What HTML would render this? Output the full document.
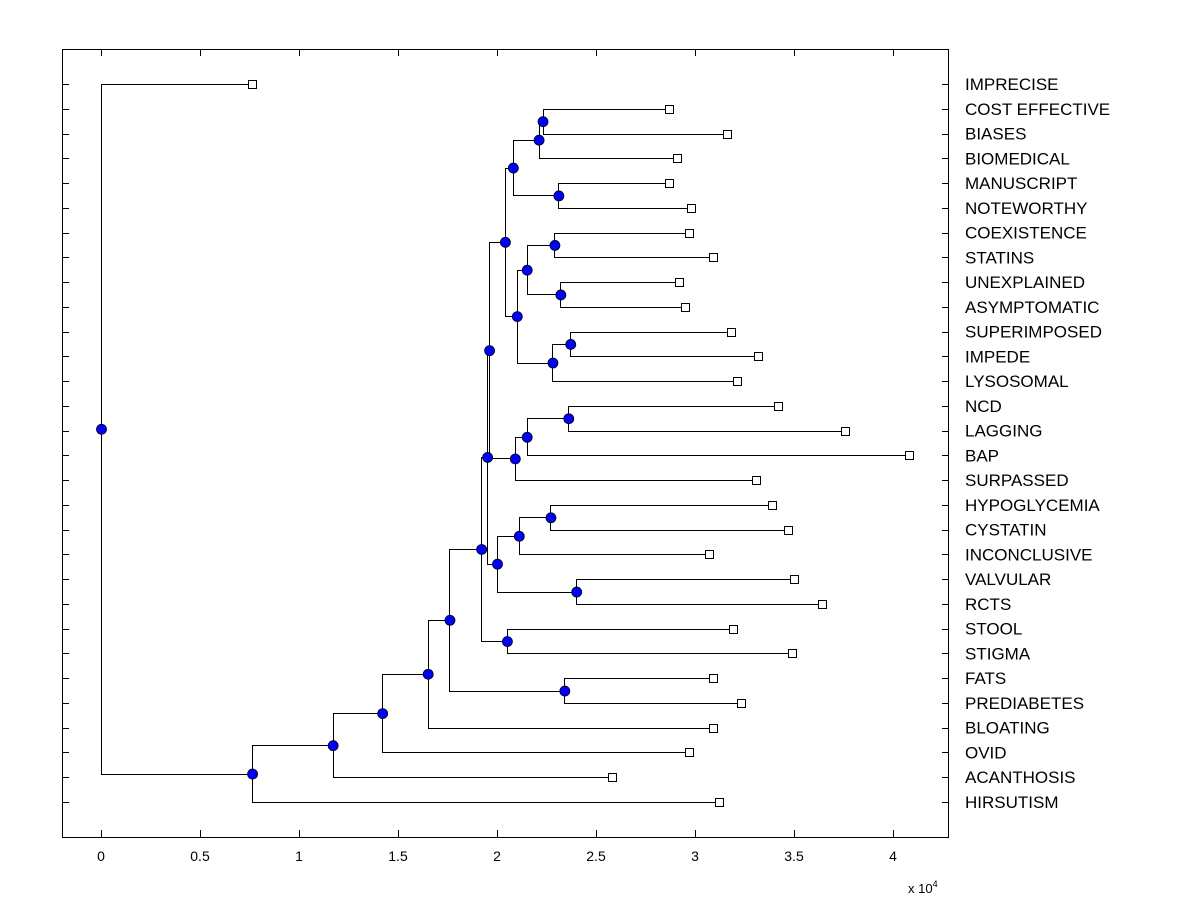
<!DOCTYPE html>
<html><head><meta charset="utf-8"><style>
body{margin:0;background:#fff;}
svg{display:block;font-family:"Liberation Sans",Arial,sans-serif;}
</style></head><body>
<svg id="chart" width="1200" height="900"></svg>
<script>
const leafNames=["IMPRECISE","COST EFFECTIVE","BIASES","BIOMEDICAL","MANUSCRIPT","NOTEWORTHY","COEXISTENCE","STATINS","UNEXPLAINED","ASYMPTOMATIC","SUPERIMPOSED","IMPEDE","LYSOSOMAL","NCD","LAGGING","BAP","SURPASSED","HYPOGLYCEMIA","CYSTATIN","INCONCLUSIVE","VALVULAR","RCTS","STOOL","STIGMA","FATS","PREDIABETES","BLOATING","OVID","ACANTHOSIS","HIRSUTISM"];
const leafValues=[0.763,2.87,3.16,2.91,2.87,2.98,2.97,3.09,2.92,2.95,3.18,3.32,3.21,3.42,3.76,4.08,3.31,3.39,3.47,3.07,3.50,3.64,3.19,3.49,3.09,3.23,3.09,2.97,2.58,3.12];
const nodeNames=["U","S","T","Q","X","Y","V","Z","W","R","N","AB","AA","P","J","AE","AC","AD","K","H","I","F","G","E","D","C","B","A","root"];
const nodeChildA=["COST EFFECTIVE","U","MANUSCRIPT","S","COEXISTENCE","UNEXPLAINED","X","SUPERIMPOSED","Z","V","Q","NCD","AB","AA","N","HYPOGLYCEMIA","AE","VALVULAR","AC","J","STOOL","H","FATS","F","E","D","C","B","IMPRECISE"];
const nodeChildB=["BIASES","BIOMEDICAL","NOTEWORTHY","T","STATINS","ASYMPTOMATIC","Y","IMPEDE","LYSOSOMAL","W","R","LAGGING","BAP","SURPASSED","P","CYSTATIN","INCONCLUSIVE","RCTS","AD","K","STIGMA","I","PREDIABETES","G","BLOATING","OVID","ACANTHOSIS","HIRSUTISM","A"];
const nodeHeights=[2.23,2.21,2.31,2.08,2.29,2.32,2.15,2.37,2.28,2.10,2.04,2.36,2.15,2.09,1.96,2.27,2.11,2.40,2.00,1.95,2.05,1.92,2.34,1.76,1.65,1.42,1.17,0.763,0];
const xTicks=[0,0.5,1,1.5,2,2.5,3,3.5,4];

const NS="http://www.w3.org/2000/svg";
const svg=document.getElementById('chart');
const X=v=>101+v*198;
const Y=i=>84+i*24.758;
function mk(t,a,p){const e=document.createElementNS(NS,t);for(const k in a)e.setAttribute(k,a[k]);(p||svg).appendChild(e);return e;}

const frame=mk('rect',{x:62.5,y:49.5,width:886,height:788,fill:'#fff',stroke:'#000','stroke-width':1});



xTicks.forEach(t=>{
  const x=Math.round(X(t))+0.5;
  mk('line',{x1:x,y1:837,x2:x,y2:830,stroke:'#000'});
  mk('line',{x1:x,y1:49,x2:x,y2:56,stroke:'#000'});
  const tx=mk('text',{x:X(t),y:861,'font-size':14,'text-anchor':'middle'});
  tx.textContent=String(t);
  
  
});
const ex=mk('text',{x:908,y:893,'font-size':13});
ex.innerHTML='x 10<tspan dy="-6" font-size="9">4</tspan>';



const pos={};
leafNames.forEach((n,i)=>{pos[n]={x:X(leafValues[i]),y:Y(i)};
  const yy=Math.round(Y(i))+0.5;
  mk('line',{x1:62,y1:yy,x2:69,y2:yy,stroke:'#000'});
  mk('line',{x1:942,y1:yy,x2:949,y2:yy,stroke:'#000'});
  const t=mk('text',{x:965,y:Y(i)+6,'font-size':17});
  t.textContent=n;
  
  
});
const lines=mk('g',{stroke:'#000','stroke-width':1,fill:'none'});


nodeNames.forEach((n,i)=>{
  const a=pos[nodeChildA[i]],b=pos[nodeChildB[i]],x=X(nodeHeights[i]);
  pos[n]={x:x,y:(a.y+b.y)/2,node:true};
  const xx=Math.round(x)+0.5,ya=Math.round(a.y)+0.5,yb=Math.round(b.y)+0.5;
  mk('path',{d:`M${a.x},${ya}H${xx}V${yb}H${b.x}`},lines);
});
leafNames.forEach(n=>{const p=pos[n];
  const r=mk('rect',{x:Math.round(p.x)-3.5,y:Math.round(p.y)-3.5,width:8,height:8,fill:'#fff',stroke:'#000'});
  
  
});
nodeNames.forEach(n=>{const p=pos[n];
  const c=mk('circle',{cx:p.x+0.5,cy:p.y+0.5,r:5,fill:'#0000ff',stroke:'#000','stroke-width':0.8});
  
  
});
</script>
</body></html>
